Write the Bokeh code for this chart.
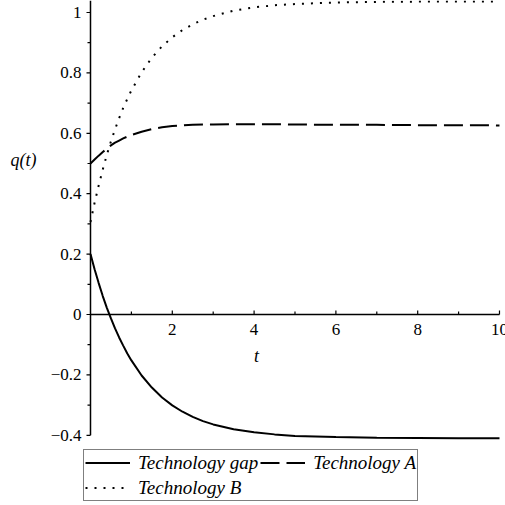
import numpy as np
from bokeh.plotting import figure
from bokeh.models import Range1d, Legend, LegendItem, Label
from bokeh.core.properties import value
from bokeh.embed import file_html
from bokeh.resources import INLINE

# ---- data ----
t = [0, 0.1, 0.2, 0.3, 0.4, 0.5, 0.6, 0.7, 0.8, 0.9, 1.0, 1.25, 1.5, 1.75,
     2.0, 2.25, 2.5, 2.75, 3.0, 3.5, 4.0, 4.5, 5.0, 6.0, 7.0, 8.0, 9.0, 10.0]
tech_gap = [0.200, 0.150, 0.104, 0.061, 0.022, -0.013, -0.046, -0.076, -0.103,
            -0.129, -0.152, -0.202, -0.242, -0.275, -0.301, -0.322, -0.339,
            -0.353, -0.364, -0.380, -0.390, -0.397, -0.402, -0.406, -0.408,
            -0.409, -0.410, -0.410]
tech_a = [0.500, 0.513, 0.526, 0.538, 0.549, 0.560, 0.569, 0.576, 0.583,
          0.589, 0.594, 0.605, 0.614, 0.620, 0.624, 0.626, 0.628, 0.629,
          0.629, 0.630, 0.630, 0.630, 0.629, 0.628, 0.628, 0.627, 0.627, 0.626]
tech_b = [0.306, 0.370, 0.427, 0.480, 0.529, 0.573, 0.613, 0.650, 0.684,
          0.714, 0.742, 0.802, 0.850, 0.888, 0.918, 0.942, 0.961, 0.976,
          0.988, 1.006, 1.017, 1.024, 1.028, 1.033, 1.035, 1.036, 1.036, 1.036]

x_ticks = [2, 4, 6, 8, 10]
x_tick_labels = ["2", "4", "6", "8", "10"]
x_minor = [1, 3, 5, 7, 9]
y_ticks = [-0.4, -0.2, 0, 0.2, 0.4, 0.6, 0.8, 1]
y_tick_labels = ["\u22120.4", "\u22120.2", "0", "0.2", "0.4", "0.6", "0.8", "1"]
y_minor = [-0.3, -0.1, 0.1, 0.3, 0.5, 0.7, 0.9]

series_names = ["Technology gap", "Technology A", "Technology B"]
x_label = "t"
y_label = "q(t)"

FONT = "Liberation Serif, DejaVu Serif, serif"

X_START, X_END = -2.2005, 10.147
Y_START, Y_END = -0.6325, 1.0397

p = figure(width=505, height=505,
           x_range=Range1d(X_START, X_END), y_range=Range1d(Y_START, Y_END),
           x_axis_type=None, y_axis_type=None,
           toolbar_location=None, output_backend="svg",
           min_border_left=0, min_border_right=0,
           min_border_top=0, min_border_bottom=0)
p.outline_line_color = None
p.background_fill_color = "white"
p.border_fill_color = "white"

# ---- axes crossing at the origin ----
p.segment(x0=[0], y0=[0], x1=[x_ticks[-1]], y1=[0], line_color="black", line_width=1.5)
p.segment(x0=[0], y0=[y_ticks[0]], x1=[0], y1=[Y_END], line_color="black", line_width=1.5)

# x ticks (pointing up)
p.ray(x=x_ticks, y=0, length=4, length_units="screen", angle=np.pi / 2,
      line_color="black", line_width=1.2)
p.ray(x=x_minor, y=0, length=3, length_units="screen", angle=np.pi / 2,
      line_color="black", line_width=1.2)
# y ticks (pointing left)
p.ray(x=0, y=y_ticks, length=4, length_units="screen", angle=np.pi,
      line_color="black", line_width=1.2)
p.ray(x=0, y=y_minor, length=3, length_units="screen", angle=np.pi,
      line_color="black", line_width=1.2)

p.text(x=x_ticks, y=0, text=x_tick_labels, text_font=value(FONT),
       text_font_size="17px", text_color="black", text_align="center",
       text_baseline="top", y_offset=10)
p.text(x=0, y=y_ticks, text=y_tick_labels, text_font=value(FONT),
       text_font_size="17px", text_color="black", text_align="right",
       text_baseline="middle", x_offset=-9)

# ---- curves ----
r_gap = p.line(t, tech_gap, line_color="black", line_width=2)
r_a = p.line(t, tech_a, line_color="black", line_width=2, line_dash="19 7")
r_b = p.line(t, tech_b, line_color="black", line_width=2, line_dash="2 7")

legend = Legend(items=[LegendItem(label=series_names[0], renderers=[r_gap]),
                       LegendItem(label=series_names[1], renderers=[r_a]),
                       LegendItem(label=series_names[2], renderers=[r_b])],
                location=(83, 4), orientation="horizontal", ncols=2)
legend.label_text_font = FONT
legend.label_text_font_style = "italic"
legend.label_text_font_size = "19px"
legend.label_text_color = "black"
legend.glyph_width = 45
legend.glyph_height = 23
legend.label_height = 23
legend.label_standoff = 8
legend.spacing = 2
legend.padding = 1
legend.margin = 0
legend.border_line_color = "black"
legend.border_line_width = 1.2
legend.background_fill_color = "white"
legend.background_fill_alpha = 1.0
p.add_layout(legend)

p.add_layout(Label(x=-1.638, y=0.513, text=y_label, text_font=FONT,
                   text_font_style="italic", text_font_size="18px",
                   text_align="center", text_baseline="middle", text_color="black"))
p.add_layout(Label(x=4.06, y=-0.136, text=x_label, text_font=FONT,
                   text_font_style="italic", text_font_size="18px",
                   text_align="center", text_baseline="middle", text_color="black"))

open("out.html", "w").write(file_html(p, INLINE))
